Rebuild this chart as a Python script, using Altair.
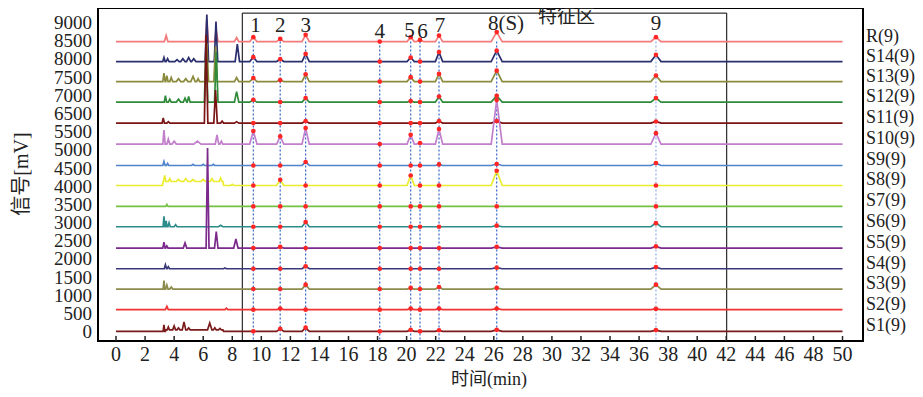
import altair as alt
import pandas as pd

# ---------------- data ----------------
trace_names = ["R(9)", "S14(9)", "S13(9)", "S12(9)", "S11(9)", "S10(9)", "S9(9)", "S8(9)",
               "S7(9)", "S6(9)", "S5(9)", "S4(9)", "S3(9)", "S2(9)", "S1(9)"]
trace_colors = ["#f27a7a", "#2b2f6e", "#8a8a3c", "#2f8a3a", "#7a1414", "#c27fcb", "#4f84cc", "#ecec2e",
                "#74c043", "#2b8c8a", "#7b2a8c", "#38387a", "#8c8c4c", "#f03232", "#7a1a1a"]
# vertical offset of each trace (signal units)
baselines = [7977, 7428, 6878, 6312, 5735, 5158, 4570, 4020, 3443, 2885, 2300, 1731, 1173, 605, 10]

# characteristic peaks 1..9 (retention time, min)
char_times = [9.45, 11.3, 13.05, 18.15, 20.28, 20.92, 22.23, 26.2, 37.16]
char_labels = ["1", "2", "3", "4", "5", "6", "7", "8(S)", "9"]
char_label_x = [9.6, 11.3, 13.05, 18.15, 20.2, 21.1, 22.3, 26.84, 37.16]
char_label_y = [8410, 8410, 8410, 8253, 8278, 8253, 8410, 8451, 8451]
char_halfwidth = [0.25, 0.25, 0.25, 0.25, 0.25, 0.25, 0.25, 0.38, 0.35]

# height of each characteristic peak above the trace baseline
char_heights = [
    [120, 75, 185, 0, 120, 45, 165, 260, 120],    # R
    [120, 65, 210, 0, 110, 0, 260, 300, 185],     # S14
    [95, 40, 200, 0, 120, 0, 210, 300, 165],      # S13
    [65, 0, 110, 0, 30, 0, 155, 175, 110],        # S12
    [0, 0, 55, 0, 0, 0, 55, 55, 45],              # S11
    [360, 210, 440, 0, 255, 30, 415, 1210, 300],  # S10
    [0, 0, 95, 0, 0, 0, 30, 40, 65],              # S9
    [0, 155, 0, 0, 275, 0, 0, 405, 0],            # S8
    [0, 0, 0, 0, 0, 0, 0, 0, 0],                  # S7
    [0, 0, 130, 0, 0, 0, 0, 30, 100],             # S6
    [0, 30, 0, 0, 0, 0, 0, 30, 45],               # S5
    [0, 0, 65, 0, 0, 0, 0, 30, 45],               # S4
    [0, 0, 120, 0, 30, 0, 55, 30, 120],           # S3
    [0, 30, 0, 0, 30, 0, 30, 30, 20],             # S2
    [0, 70, 100, 0, 40, 0, 30, 40, 35],           # S1
]

# early (0-9 min) peaks: (retention time, height, half width)
early_peaks = [
    [(3.45, 165, 0.12), (6.25, 600, 0.1), (6.9, 300, 0.12), (8.3, 110, 0.15)],
    [(3.3, 110, 0.08), (3.55, 80, 0.1), (4.2, 55, 0.15), (4.6, 80, 0.15), (5.0, 110, 0.15),
     (5.35, 80, 0.15), (6.25, 1290, 0.12), (6.88, 1100, 0.12), (8.35, 480, 0.15)],
    [(3.3, 230, 0.08), (3.5, 165, 0.08), (3.8, 110, 0.1), (4.3, 80, 0.15), (4.8, 80, 0.15),
     (5.3, 140, 0.15), (5.65, 80, 0.1), (6.25, 1050, 0.12), (6.85, 960, 0.12), (8.3, 110, 0.15)],
    [(3.4, 180, 0.08), (3.7, 80, 0.1), (4.3, 80, 0.15), (4.75, 110, 0.12), (5.0, 155, 0.1),
     (6.2, 1650, 0.12), (6.9, 1375, 0.12), (8.3, 290, 0.15)],
    [(3.25, 140, 0.08), (3.6, 40, 0.1), (6.2, 2420, 0.12), (6.85, 910, 0.12), (7.3, 55, 0.1),
     (8.3, 40, 0.15)],
    [(3.3, 385, 0.08), (3.6, 140, 0.1), (4.0, 80, 0.15), (5.6, 80, 0.25), (6.95, 250, 0.12),
     (7.25, 80, 0.1)],
    [(3.3, 110, 0.08), (3.55, 55, 0.08), (5.3, 30, 0.1), (6.0, 30, 0.1), (6.7, 30, 0.1)],
    [(3.35, 165, 0.08), (3.7, 80, 0.1), (4.3, 55, 0.15), (4.8, 80, 0.15), (5.3, 55, 0.15),
     (6.0, 55, 0.15), (6.6, 80, 0.12), (7.2, 95, 0.1), (8.0, 30, 0.1)],
    [(3.5, 55, 0.08)],
    [(3.3, 285, 0.06), (3.45, 165, 0.06), (3.65, 110, 0.08), (4.1, 55, 0.1), (7.2, 40, 0.15)],
    [(3.3, 165, 0.08), (3.5, 55, 0.08), (4.75, 140, 0.12), (6.3, 2750, 0.1), (6.9, 455, 0.12),
     (8.25, 250, 0.15)],
    [(3.4, 110, 0.08), (3.6, 55, 0.08), (7.5, 20, 0.1)],
    [(3.3, 235, 0.06), (3.5, 110, 0.08), (3.8, 55, 0.1)],
    [(3.5, 90, 0.1), (7.6, 40, 0.1)],
    [(3.3, 175, 0.06), (3.6, 80, 0.08), (4.0, 110, 0.1), (4.3, 55, 0.1), (4.68, 220, 0.12),
     (5.0, 55, 0.1), (6.45, 190, 0.15), (6.8, 60, 0.1), (7.15, 40, 0.1)],
]
# raised baseline stretches: (start, end, height) or None
humps = [None, None, None, None, None, None, None, (3.2, 7.4, 110), None, None, None, None, None,
         None, (3.4, 7.4, 40)]

run_start, run_end = 0.0, 50.0
box_range = [8.69, 42.03]
box_top = 8759
region_label = "特征区"
region_label_pos = (31.0, 8640)
x_tick_values = list(range(0, 51, 2))
y_tick_labels = ["0", "500", "1000", "1500", "2000", "2500", "3000", "3500", "4000", "4500",
                 "5000", "5500", "6500", "7000", "7500", "8000", "8500", "9000"]
y_tick_step = 500
x_title = "时间(min)"
y_title = "信号[mV]"

# ---------------- build tables ----------------
rows = []
for i, name in enumerate(trace_names):
    base = baselines[i]
    hump = humps[i]

    def b(t, hump=hump):
        return hump[2] if hump and hump[0] <= t <= hump[1] else 0

    pts = [(run_start, 0), (run_end, 0)]
    if hump:
        pts += [(hump[0], 0), (hump[0] + 0.04, hump[2]), (hump[1] - 0.04, hump[2]), (hump[1], 0)]
    for (t, h, w) in early_peaks[i]:
        pts += [(t - w, b(t - w)), (t, b(t) + h), (t + w, b(t + w))]
    for k, t in enumerate(char_times):
        h = char_heights[i][k]
        if h > 0:
            w = char_halfwidth[k]
            pts += [(t - w, 0), (t, h), (t + w, 0)]
    pts.sort(key=lambda p: p[0])
    for j, (t, v) in enumerate(pts):
        rows.append({"trace": name, "o": j, "t": t, "v": base + v})
lines_df = pd.DataFrame(rows)

dots_df = pd.DataFrame([
    {"trace": name, "t": t, "v": baselines[i] + char_heights[i][k]}
    for i, name in enumerate(trace_names) for k, t in enumerate(char_times)
])
vlines_df = pd.DataFrame({"t": char_times, "v": [baselines[0]] * len(char_times),
                          "last": [k == len(char_times) - 1 for k in range(len(char_times))]})
labels_df = pd.DataFrame({"t": char_label_x, "v": char_label_y, "txt": char_labels})
names_df = pd.DataFrame({"v": baselines, "txt": trace_names})
xticks_df = pd.DataFrame({"t": x_tick_values, "txt": [str(v) for v in x_tick_values]})
yticks_df = pd.DataFrame({"v": [k * y_tick_step for k in range(len(y_tick_labels))],
                          "txt": y_tick_labels})
titles_df = pd.DataFrame({"txt": [x_title]})
ytitle_df = pd.DataFrame({"txt": [y_title]})

W, H = 765, 333
Y0, Y1 = -256, 8900
box_df = pd.DataFrame({"t": [box_range[0]], "t2": [box_range[1]], "v": [Y0], "v2": [box_top]})
region_df = pd.DataFrame({"t": [region_label_pos[0]], "v": [region_label_pos[1]], "txt": [region_label]})

SERIF = "Liberation Serif"
MIXED = "Liberation Serif, Noto Sans CJK SC"
CJK = "Noto Sans CJK SC"
INK = "#222"

xs = alt.Scale(domain=[-1.24, 51.41], nice=False, zero=False)
ys = alt.Scale(domain=[Y0, Y1], nice=False, zero=False)

X = alt.X("t:Q", scale=xs, axis=None)
Y = alt.Y("v:Q", scale=ys, axis=None)

box = alt.Chart(box_df).mark_rect(fill="transparent", stroke="black", strokeWidth=1).encode(
    x=X, x2="t2:Q", y=Y, y2="v2:Q")

ticks = alt.Chart(xticks_df).mark_rule(color=INK, strokeWidth=1.5).encode(
    x=X, y=alt.value(H), y2=alt.value(H - 5))

xlabels = alt.Chart(xticks_df).mark_text(font=SERIF, fontSize=20, color=INK,
                                         baseline="alphabetic").encode(
    x=X, y=alt.value(H + 20), text="txt:N")

ylabels = alt.Chart(yticks_df).mark_text(font=SERIF, fontSize=19, color=INK, align="right",
                                         baseline="alphabetic", dy=6.5).encode(
    x=alt.value(-6), y=Y, text="txt:N")

xtitle = alt.Chart(titles_df).mark_text(font=MIXED, fontSize=18, color=INK,
                                        baseline="middle").encode(
    x=alt.value(391), y=alt.value(H + 39), text="txt:N")

ytitle = alt.Chart(ytitle_df).mark_text(font=MIXED, fontSize=20, color=INK, angle=270,
                                        baseline="middle").encode(
    x=alt.value(-76), y=alt.value(166), text="txt:N")

vlines = alt.Chart(vlines_df).mark_rule(strokeWidth=1.2, strokeDash=[2, 2]).encode(
    x=X, y=Y, y2=alt.datum(Y0),
    color=alt.condition("datum.last", alt.value("#8fb0e6"), alt.value("#3565c8")))

lines = alt.Chart(lines_df).mark_line(strokeWidth=1.7).encode(
    x=X, y=Y,
    color=alt.Color("trace:N", scale=alt.Scale(domain=trace_names, range=trace_colors), legend=None),
    order="o:Q")

dots = alt.Chart(dots_df).mark_circle(size=22, color="#ff2626", opacity=1).encode(x=X, y=Y)

peak_labels = alt.Chart(labels_df).mark_text(font=SERIF, fontSize=21, color=INK,
                                             baseline="middle").encode(x=X, y=Y, text="txt:N")

region = alt.Chart(region_df).mark_text(font=CJK, fontSize=19, color=INK,
                                        baseline="middle").encode(x=X, y=Y, text="txt:N")

names = alt.Chart(names_df).mark_text(font=SERIF, fontSize=18, color=INK, align="left",
                                      baseline="middle", dy=-5).encode(
    x=alt.value(W + 3), y=Y, text="txt:N")

chart = alt.layer(box, ticks, vlines, lines, dots, peak_labels, region, names,
                  xlabels, ylabels, xtitle, ytitle).properties(
    width=W, height=H,
    background="white",
    autosize=alt.AutoSizeParams(type="none"),
    padding={"left": 90, "top": 0, "right": 52, "bottom": 48},
).configure_view(stroke="black", strokeWidth=2)

chart.save("out.html", embed_options={"renderer": "svg", "actions": False})
